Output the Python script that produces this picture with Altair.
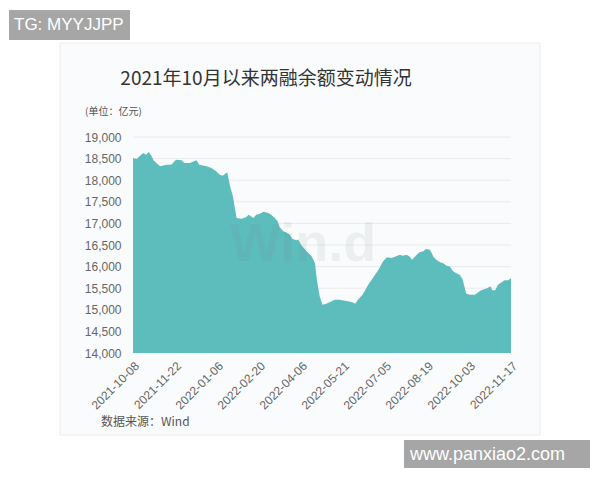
import altair as alt
import pandas as pd

# ---- data (margin financing balance, 亿元) ----
dates = [
    "2021-10-08", "2021-10-12", "2021-10-15", "2021-10-19", "2021-10-22", "2021-10-25",
    "2021-10-28", "2021-10-30", "2021-11-02", "2021-11-06", "2021-11-13", "2021-11-18",
    "2021-11-23", "2021-11-29", "2021-12-02", "2021-12-08", "2021-12-15", "2021-12-18",
    "2021-12-26", "2021-12-31", "2022-01-05", "2022-01-09", "2022-01-12", "2022-01-17",
    "2022-01-20", "2022-01-23", "2022-01-27", "2022-02-01", "2022-02-06", "2022-02-09",
    "2022-02-14", "2022-02-17", "2022-02-21", "2022-02-25", "2022-03-02", "2022-03-05",
    "2022-03-09", "2022-03-12", "2022-03-14", "2022-03-18", "2022-03-21", "2022-03-25",
    "2022-03-28", "2022-04-01", "2022-04-03", "2022-04-06", "2022-04-12", "2022-04-17",
    "2022-04-21", "2022-04-23", "2022-04-26", "2022-04-29", "2022-05-03", "2022-05-09",
    "2022-05-12", "2022-05-17", "2022-05-23", "2022-05-26", "2022-05-31", "2022-06-03",
    "2022-06-06", "2022-06-11", "2022-06-17", "2022-06-22", "2022-06-28", "2022-07-03",
    "2022-07-07", "2022-07-12", "2022-07-17", "2022-07-21", "2022-07-24", "2022-07-28",
    "2022-07-31", "2022-08-03", "2022-08-08", "2022-08-11", "2022-08-15", "2022-08-18",
    "2022-08-22", "2022-08-24", "2022-08-26", "2022-08-29", "2022-09-02", "2022-09-05",
    "2022-09-09", "2022-09-12", "2022-09-16", "2022-09-19", "2022-09-23", "2022-09-26",
    "2022-09-28", "2022-09-30", "2022-10-04", "2022-10-09", "2022-10-13", "2022-10-16",
    "2022-10-20", "2022-10-23", "2022-10-26", "2022-10-28", "2022-10-31", "2022-11-03",
    "2022-11-07", "2022-11-10", "2022-11-14", "2022-11-17",
]
values = [
    18514, 18491, 18552, 18630, 18590, 18653,
    18552, 18460, 18398, 18321, 18360, 18360,
    18475, 18460, 18398, 18398, 18460, 18360,
    18321, 18282, 18205, 18128, 18105, 18182,
    17858, 17627, 17125, 17110, 17140, 17202,
    17125, 17202, 17225, 17270, 17240, 17202,
    17125, 17048, 16917, 16816, 16793, 16740,
    16640, 16608, 16625, 16508, 16353, 16253,
    16083, 15697, 15311, 15119, 15142, 15196,
    15234, 15234, 15211, 15196, 15173, 15142,
    15234, 15350, 15582, 15736, 15929, 16122,
    16214, 16199, 16238, 16276, 16253, 16276,
    16238, 16160, 16276, 16330, 16353, 16407,
    16392, 16315, 16222, 16160, 16099, 16083,
    16021, 16006, 15890, 15852, 15813, 15713,
    15543, 15373, 15350, 15350, 15404, 15450,
    15481, 15504, 15543, 15450, 15450, 15582,
    15636, 15682, 15682, 15728,
]
y_ticks = [14000, 14500, 15000, 15500, 16000, 16500, 17000, 17500, 18000, 18500, 19000]
x_ticks = ["2021-10-08", "2021-11-22", "2022-01-06", "2022-02-20", "2022-04-06",
           "2022-05-21", "2022-07-05", "2022-08-19", "2022-10-03", "2022-11-17"]

title_text = "2021年10月以来两融余额变动情况"
unit_text = "(单位：亿元)"
source_text = "数据来源：Wind"
tg_text = "TG: MYYJJPP"
site_text = "www.panxiao2.com"

W, H = 378, 216
FILL = "#5dbcbc"
LABEL_FONT = "Liberation Sans"
CJK_FONT = "Noto Sans CJK SC"


def dt(s):
    y, m, d = (int(p) for p in s.split("-"))
    return alt.DateTime(year=y, month=m, date=d, utc=True)


df = pd.DataFrame({"date": dates, "value": values})
grid_df = pd.DataFrame({"v": y_ticks})
one = pd.DataFrame({"a": [0]})

yscale = alt.Scale(domain=[y_ticks[0], y_ticks[-1]], zero=False, nice=False)
xscale = alt.Scale(type="utc", domain=[dt(x_ticks[0]), dt(x_ticks[-1])], nice=False)

y_axis = alt.Axis(
    values=y_ticks, format=",.0f", labelPadding=12, labelFont=LABEL_FONT,
    labelFontSize=12, labelColor="#666666", domain=False, ticks=False, grid=False,
    zindex=1,
)

card = alt.Chart(one).mark_rect(fill="#fafbfc", stroke="#ececec", strokeWidth=1).encode(
    x=alt.value(-73), x2=alt.value(407), y=alt.value(-94), y2=alt.value(298)
)

grid = alt.Chart(grid_df).mark_rule(color="#e9eaec", strokeWidth=1).encode(
    y=alt.Y("v:Q", scale=yscale, axis=y_axis, title=None),
    x=alt.value(0), x2=alt.value(W),
)

area = alt.Chart(df).mark_area(color=FILL, opacity=1).encode(
    x=alt.X(
        "date:T", scale=xscale, title=None,
        axis=alt.Axis(
            values=[dt(s) for s in x_ticks], format="%Y-%m-%d", labelAngle=-45,
            labelAlign="right", labelBaseline="top", labelPadding=7,
            labelFont=LABEL_FONT, labelFontSize=12, labelColor="#666666",
            domain=False, ticks=False, grid=False, labelOverlap=False, labelFlush=False,
            zindex=1,
        ),
    ),
    y=alt.Y("value:Q", scale=yscale, title=None, axis=y_axis),
    y2=alt.datum(y_ticks[0]),
)

watermark = alt.Chart(one).mark_text(
    text="Win.d", font=LABEL_FONT, fontSize=54, fontWeight="bold",
    color="#7a8a8a", opacity=0.10, align="center", baseline="middle",
).encode(x=alt.value(170), y=alt.value(108))

title = alt.Chart(one).mark_text(
    text=title_text, font=CJK_FONT, fontSize=19, color="#333333",
    align="center", baseline="middle",
).encode(x=alt.value(133), y=alt.value(-58))

unit = alt.Chart(one).mark_text(
    text=unit_text, font=CJK_FONT, fontSize=10, color="#555555",
    align="left", baseline="middle",
).encode(x=alt.value(-48), y=alt.value(-25))

source = alt.Chart(one).mark_text(
    text=source_text, font=CJK_FONT, fontSize=12, color="#555555",
    align="left", baseline="middle",
).encode(x=alt.value(-32), y=alt.value(285))

tg_box = alt.Chart(one).mark_rect(fill="#a6a6a6").encode(
    x=alt.value(-124), x2=alt.value(-3), y=alt.value(-127), y2=alt.value(-97)
)
tg = alt.Chart(one).mark_text(
    text=tg_text, font=LABEL_FONT, fontSize=17, color="white",
    align="left", baseline="middle",
).encode(x=alt.value(-119), y=alt.value(-112))

site_box = alt.Chart(one).mark_rect(fill="#a6a6a6").encode(
    x=alt.value(271), x2=alt.value(457), y=alt.value(303), y2=alt.value(333)
)
site = alt.Chart(one).mark_text(
    text=site_text, font=LABEL_FONT, fontSize=18, color="white",
    align="left", baseline="middle",
).encode(x=alt.value(277), y=alt.value(318))

chart = alt.layer(
    card, grid, area, watermark, title, unit, source, tg_box, tg, site_box, site
).properties(
    width=W, height=H,
    autosize=alt.AutoSizeParams(type="none"),
    padding={"left": 125, "top": 129, "right": 81, "bottom": 115},
    background="white",
).configure_view(stroke=None)

chart.save("out.html", embed_options={"renderer": "svg", "actions": False})
